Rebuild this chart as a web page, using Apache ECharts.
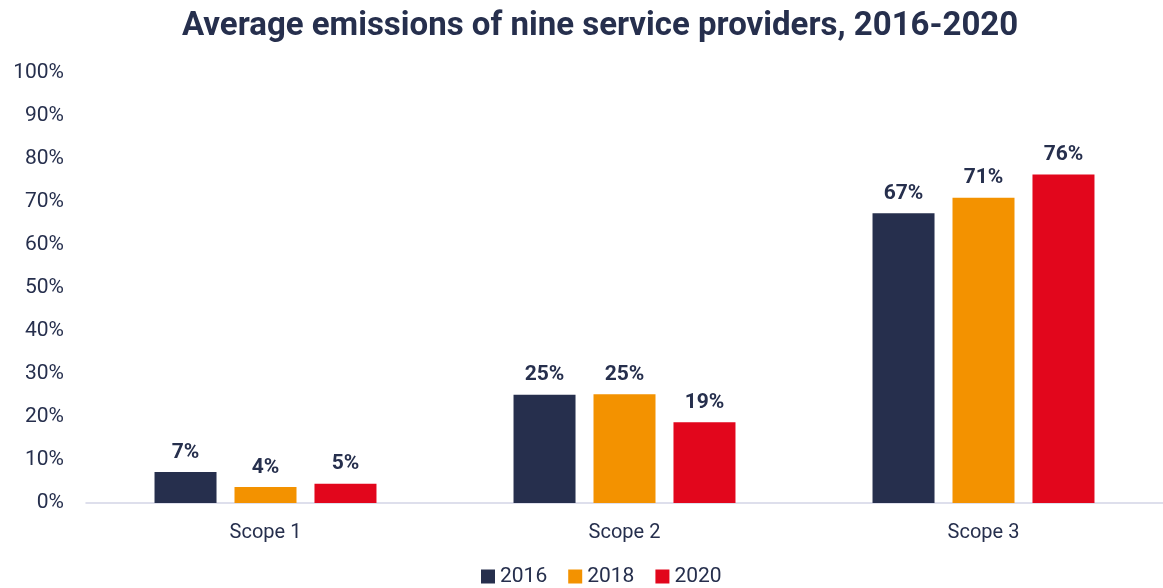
<!DOCTYPE html>
<html><head><meta charset="utf-8">
<script src="https://cdn.jsdelivr.net/npm/echarts@6/dist/echarts.min.js"></script>
<style>html,body{margin:0;padding:0;background:#fff}#c{width:1163px;height:588px}</style>
</head><body><div id="c"></div>
<script>
const categories = ['Scope 1', 'Scope 2', 'Scope 3'];
const seriesNames = ['2016', '2018', '2020'];
const values2016 = [7.2, 25.2, 67.4];
const values2018 = [3.7, 25.3, 71.0];
const values2020 = [4.5, 18.8, 76.4];
const colors = ['#262f4d', '#f39200', '#e2061c'];
const textColor = '#262f4d';

const chart = echarts.init(document.getElementById('c'));
const data = [values2016, values2018, values2020];
chart.setOption({
  animation: false,
  title: {
    text: 'Average emissions of nine service providers, 2016-2020',
    left: 177, top: 5,
    textStyle: { fontFamily: 'Roboto', fontWeight: 'bold', fontSize: 33, color: textColor }
  },
  legend: {
    bottom: -4, left: 476,
    itemWidth: 14, itemHeight: 14, itemGap: 21,
    icon: 'rect',
    textStyle: { fontFamily: 'Roboto', fontSize: 21, color: textColor, padding: [0, 0, 0, 0] }
  },
  grid: { left: 86, right: -5, top: 73, bottom: 85, containLabel: false },
  xAxis: {
    type: 'category', data: categories,
    axisLine: { lineStyle: { color: '#d3d5e6', width: 1.5 } },
    axisTick: { show: false },
    axisLabel: { fontFamily: 'Roboto', fontSize: 20, color: textColor, margin: 20 }
  },
  yAxis: {
    type: 'value', min: 0, max: 100, interval: 10,
    splitLine: { show: false },
    axisLine: { show: false }, axisTick: { show: false },
    axisLabel: { fontFamily: 'Roboto', fontSize: 21, color: textColor, margin: 22, formatter: '{value}%' }
  },
  series: seriesNames.map((n, i) => ({
    name: n, type: 'bar', data: data[i],
    barWidth: 62, barGap: '29%',
    itemStyle: { color: colors[i] },
    label: {
      show: true, position: 'top', distance: 9,
      fontFamily: 'Roboto', fontWeight: 'bold', fontSize: 21, color: textColor,
      formatter: p => Math.round(p.value) + '%'
    }
  }))
});
</script></body></html>
